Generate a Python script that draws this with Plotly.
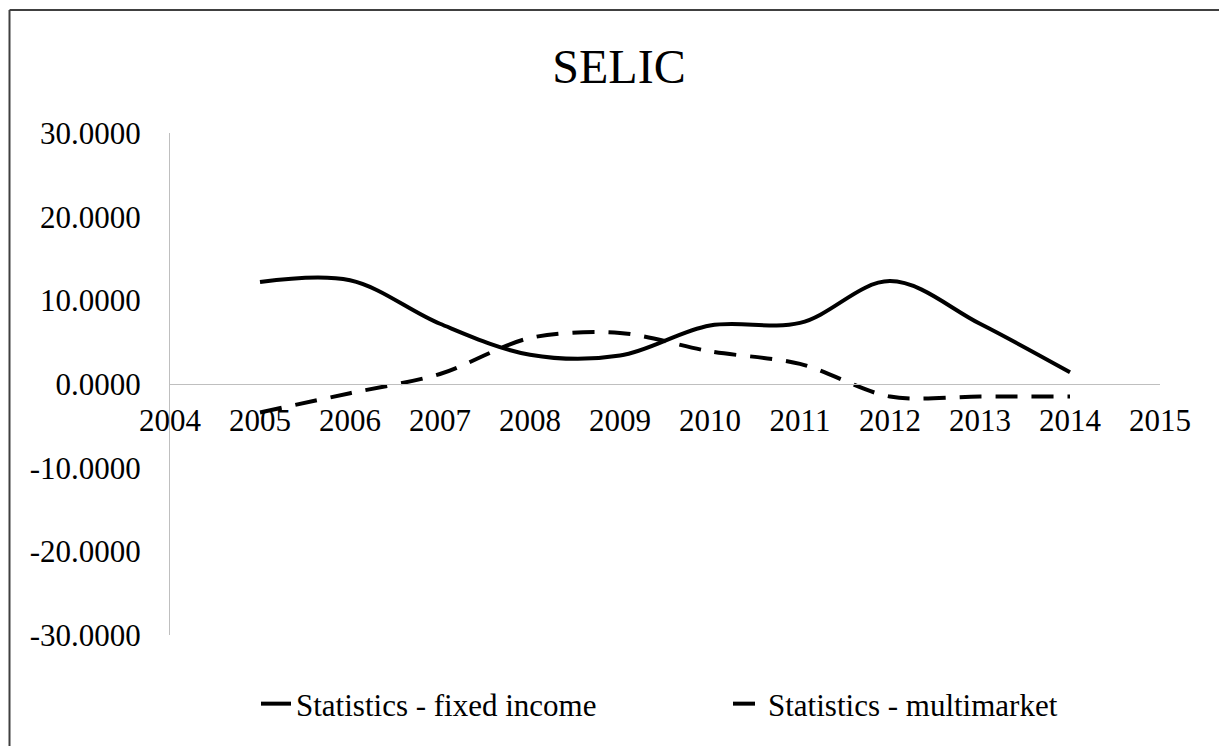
import plotly.graph_objects as go

years = [2005, 2006, 2007, 2008, 2009, 2010, 2011, 2012, 2013, 2014]
fixed_income = [12.2, 12.4, 7.2, 3.5, 3.4, 7.0, 7.3, 12.3, 7.2, 1.4]
multimarket = [-3.4, -1.1, 1.2, 5.5, 6.1, 3.9, 2.4, -1.5, -1.5, -1.5]

x_ticks = list(range(2004, 2016))
y_ticks = [-30, -20, -10, 0, 10, 20, 30]
y_tick_labels = ["-30.0000", "-20.0000", "-10.0000", "0.0000", "10.0000", "20.0000", "30.0000"]

FONT = "Liberation Serif, Times New Roman, serif"

fig = go.Figure()
fig.add_trace(go.Scatter(
    x=years, y=fixed_income, mode="lines", name="Statistics - fixed income",
    line=dict(color="black", width=4, shape="spline", smoothing=1.0),
))
fig.add_trace(go.Scatter(
    x=years, y=multimarket, mode="lines", name="Statistics - multimarket",
    line=dict(color="black", width=4, shape="spline", smoothing=0.9, dash="22px,14px"),
))

W, H = 1219, 746
L, R, T, B = 170, 1160, 133, 635

def px_x(p):
    return (p - L) / (R - L)

def px_y(p):
    return (B - p) / (B - T)

fig.update_layout(
    width=W, height=H,
    margin=dict(l=L, r=W - R, t=T, b=H - B, pad=0),
    paper_bgcolor="white", plot_bgcolor="white",
    font=dict(family=FONT, color="black", size=31),
    title=dict(text="SELIC", x=619 / W, xanchor="center", y=1 - 66 / H, yanchor="middle",
               font=dict(family=FONT, size=48, color="black")),
    showlegend=True,
    legend=dict(orientation="h", x=px_x(256), xanchor="left", y=px_y(704), yanchor="middle",
                font=dict(family=FONT, size=31, color="black"), bgcolor="rgba(0,0,0,0)",
                entrywidth=427, entrywidthmode="pixels", tracegroupgap=0),
    xaxis=dict(range=[2004, 2015], tickvals=x_ticks, ticktext=[str(v) for v in x_ticks],
               showgrid=False, zeroline=False, showline=True, linecolor="#BFBFBF", linewidth=1,
               anchor="free", position=0.5, ticks="", ticklabelstandoff=9,
               tickfont=dict(family=FONT, size=31)),
    yaxis=dict(range=[-30, 30], tickvals=y_ticks, ticktext=y_tick_labels,
               showgrid=False, zeroline=False, showline=True, linecolor="#BFBFBF", linewidth=1,
               ticks="", ticklabelstandoff=22, tickfont=dict(family=FONT, size=31)),
    shapes=[
        dict(type="line", xref="paper", yref="paper", x0=px_x(9.5), x1=px_x(1230),
             y0=px_y(10), y1=px_y(10), line=dict(color="#404040", width=2)),
        dict(type="line", xref="paper", yref="paper", x0=px_x(9.5), x1=px_x(9.5),
             y0=px_y(10), y1=px_y(760), line=dict(color="#404040", width=2)),
    ],
)

fig.write_html("out.html", config={"displayModeBar": False},
               post_script="document.body.style.margin='0';document.body.style.overflow='hidden';")
